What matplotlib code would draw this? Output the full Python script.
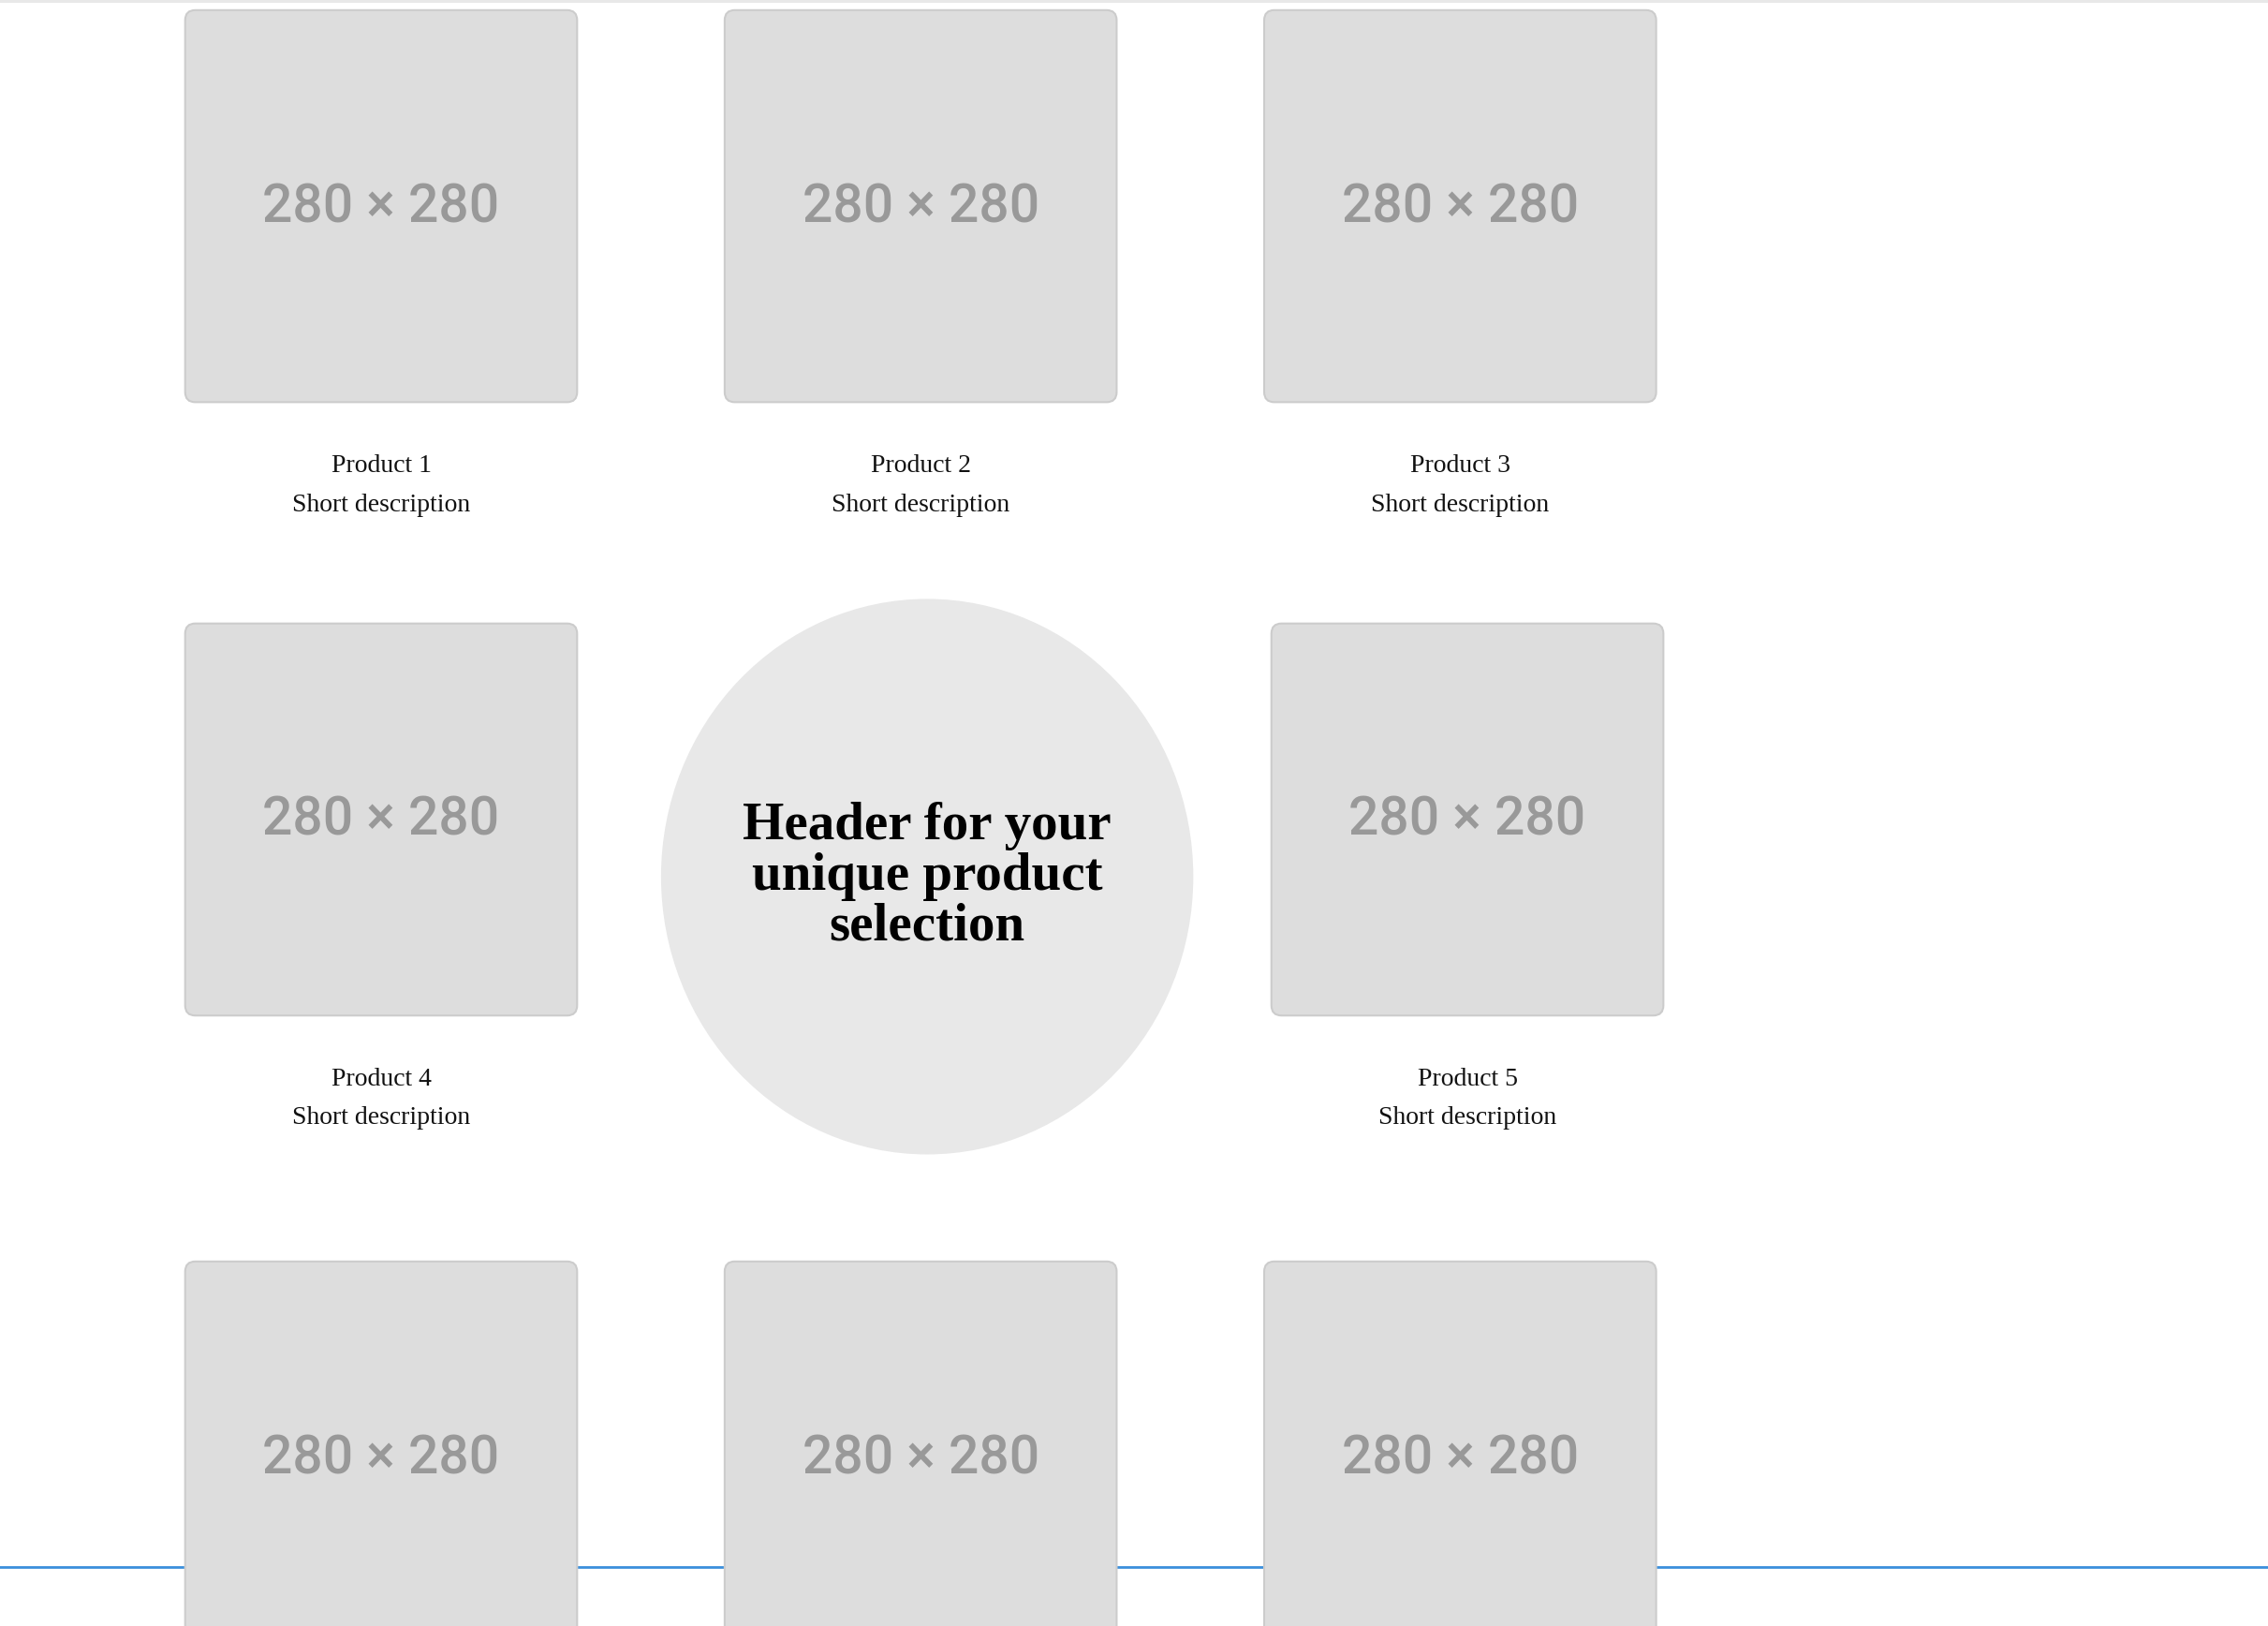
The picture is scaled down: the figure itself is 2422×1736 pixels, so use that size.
import matplotlib
matplotlib.use("Agg")
import matplotlib.pyplot as plt
from matplotlib.patches import FancyBboxPatch, Ellipse

# layout measured in the 1568x1124 preview, scaled by the axes limits
W, H = 1568, 1124
box_label = "280 × 280"
products = ["Product 1", "Product 2", "Product 3", "Product 4", "Product 5"]
desc = "Short description"
col_x = [128, 501, 874]
row_y = [7, 431, 872]
header = "Header for your\nunique product\nselection"
size = 271

fig = plt.figure(figsize=(24.22, 17.36), dpi=100)
ax = fig.add_axes([0, 0, 1, 1])
ax.set_xlim(0, W)
ax.set_ylim(H, 0)
ax.axis("off")

# blue rule behind the last row, thin grey line at the top
ax.plot([0, W], [1083, 1083], color="#3b8fdc", lw=2, zorder=0)
ax.plot([0, W], [0.5, 0.5], color="#e8e8e8", lw=3, zorder=0)

def box(x, y, label=None):
    ax.add_patch(FancyBboxPatch((x, y), size, size,
                                boxstyle="round,pad=0,rounding_size=7",
                                fc="#dddddd", ec="#cccccc", lw=1.5, zorder=1))
    cx = x + size / 2
    ax.text(cx, y + size / 2 + 1, box_label, ha="center", va="center",
            fontsize=41, color="#999999", family="Roboto", weight="medium", zorder=2)
    if label:
        ax.text(cx, y + 315, label, ha="center", va="center", fontsize=20,
                family="Liberation Serif", color="#111111")
        ax.text(cx, y + 342, desc, ha="center", va="center", fontsize=20,
                family="Liberation Serif", color="#111111")

positions = [(col_x[0], row_y[0]), (col_x[1], row_y[0]), (col_x[2], row_y[0]),
             (col_x[0], row_y[1]), (col_x[2] + 5, row_y[1])]
for (x, y), name in zip(positions, products):
    box(x, y, name)
for x in col_x:
    box(x, row_y[2])

ax.add_patch(Ellipse((641, 606), 368, 384, fc="#e8e8e8", ec="none", zorder=1))
ax.text(641, 606, header, ha="center", va="center", fontsize=41, weight="bold",
        family="Liberation Serif", color="black", linespacing=1.05, zorder=2)

fig.savefig("out.png", dpi=100)
